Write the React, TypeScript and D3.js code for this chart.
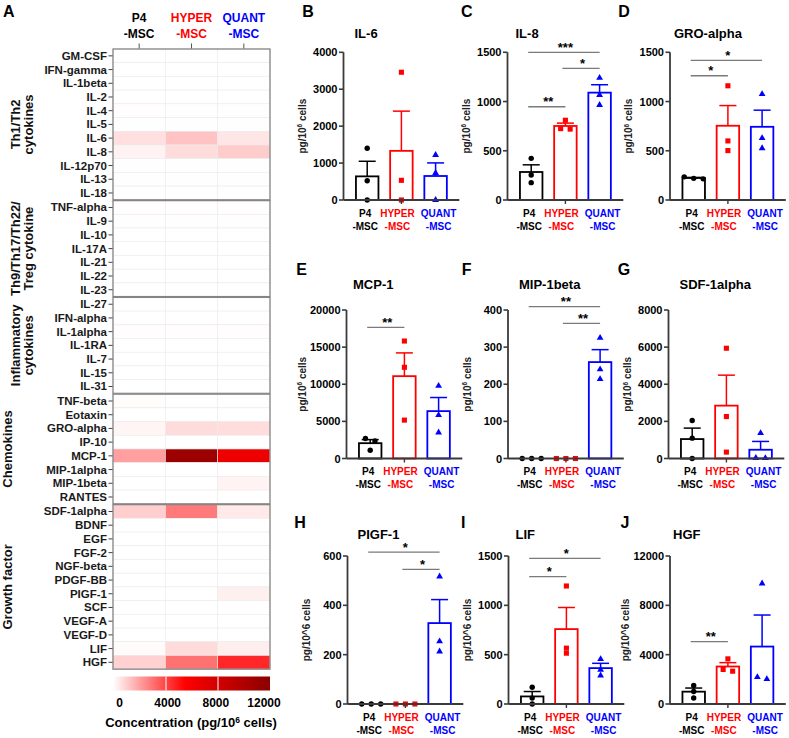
import React from "react";
import * as d3 from "d3";

const FONT = "'Liberation Sans', Arial, Helvetica, sans-serif";

// ---------------- Panel A: heatmap data ----------------
const heatColumns = ["P4", "HYPER", "QUANT"];
const columnColors = ["#000000", "#ff0000", "#0000ff"];
const groupLabels = [
  ["Th1/Th2", "cytokines"],
  ["Th9/Th17/Th22/", "Treg cytokine"],
  ["Inflammatory", "cytokines"],
  ["Chemokines"],
  ["Growth factor"],
];
const groupRows = [
  ["GM-CSF", "IFN-gamma", "IL-1beta", "IL-2", "IL-4", "IL-5", "IL-6", "IL-8", "IL-12p70", "IL-13", "IL-18"],
  ["TNF-alpha", "IL-9", "IL-10", "IL-17A", "IL-21", "IL-22", "IL-23"],
  ["IL-27", "IFN-alpha", "IL-1alpha", "IL-1RA", "IL-7", "IL-15", "IL-31"],
  ["TNF-beta", "Eotaxin", "GRO-alpha", "IP-10", "MCP-1", "MIP-1alpha", "MIP-1beta", "RANTES"],
  ["SDF-1alpha", "BDNF", "EGF", "FGF-2", "NGF-beta", "PDGF-BB", "PIGF-1", "SCF", "VEGF-A", "VEGF-D", "LIF", "HGF"],
];
const heatP4 = [
  0, 0, 10, 0, 40, 20, 700, 280, 20, 20, 20,
  40, 30, 10, 10, 0, 0, 0,
  0, 0, 50, 10, 0, 10, 0,
  60, 0, 220, 10, 2060, 0, 0, 0,
  1050, 0, 0, 0, 0, 0, 0, 0, 10, 0, 80, 1000,
];
const heatHyper = [
  0, 0, 10, 0, 30, 20, 1300, 760, 20, 20, 20,
  40, 30, 10, 10, 0, 0, 0,
  0, 0, 50, 10, 0, 10, 0,
  20, 0, 750, 10, 11000, 0, 0, 0,
  2850, 0, 0, 0, 0, 0, 0, 0, 10, 0, 760, 3050,
];
const heatQuant = [
  0, 0, 10, 0, 30, 20, 550, 1090, 20, 15, 20,
  40, 20, 10, 10, 0, 0, 0,
  0, 0, 50, 10, 0, 10, 0,
  20, 0, 740, 10, 6380, 0, 260, 0,
  470, 0, 0, 0, 0, 0, 330, 0, 10, 0, 360, 4650,
];
const legendTicks = [0, 4000, 8000, 12000];

// ---------------- Panels B-J: bar chart data ----------------
const barGroups = ["P4", "HYPER", "QUANT"];
const panelLetters = ["B", "C", "D", "E", "F", "G", "H", "I", "J"];
const panelTitles = ["IL-6", "IL-8", "GRO-alpha", "MCP-1", "MIP-1beta", "SDF-1alpha", "PIGF-1", "LIF", "HGF"];
const p4Values = [
  [1400, 520, 0], [423, 254, 176], [215, 235, 220],
  [2700, 2370, 1120], [0, 0, 0], [2044, 1097, 0],
  [0, 0, 0], [170, 60, 0], [1500, 1017, 484],
];
const hyperValues = [
  [3460, 533, 0], [810, 720, 725], [1160, 600, 502],
  [15820, 12280, 5170], [0, 0, 0], [5940, 2260, 344],
  [0, 0, 0], [1196, 566, 515], [3660, 2660, 2800],
];
const quantValues = [
  [1220, 730, 0], [1240, 1066, 965], [1076, 628, 526],
  [9790, 5840, 3510], [325, 240, 214], [1366, 30, 20],
  [517, 254, 213], [455, 347, 289], [9771, 2019, 2180],
];
const yMaxes = [4000, 1500, 1500, 20000, 400, 8000, 600, 1500, 12000];
const yTickSteps = [1000, 500, 500, 5000, 100, 2000, 200, 500, 4000];
const yUnitSuperscript = [true, true, true, true, true, true, false, false, false];

// significance brackets
const sigPanel = [1, 1, 1, 2, 2, 3, 4, 4, 6, 6, 7, 7, 8];
const sigFrom = [0, 1, 0, 0, 0, 0, 0, 1, 0, 1, 0, 0, 0];
const sigTo = [2, 2, 1, 2, 1, 1, 2, 2, 2, 2, 2, 1, 1];
const sigLevel = [1500, 1337, 947, 1418, 1262, 17670, 409, 364, 616, 546, 1475, 1290, 5055];
const sigText = ["***", "*", "**", "*", "*", "**", "**", "**", "*", "*", "*", "*", "**"];

// ---------------- layout ----------------
const AXIS_X = [343.5, 507.5, 670, 346.5, 508, 668.5, 347.5, 508.5, 670];
const ROW_Y: [number, number][] = [[200, 52.3], [458.5, 310], [704, 556]];
const LETTER_X = [308, 466.7, 624, 301.7, 466.7, 624, 300, 463.3, 625];
const LETTER_BASE = [16.5, 275, 527.5];
const TITLE_DX = [11, 8, 4, 6.5, 11, 11, 10, 7, 3];
const TITLE_BASE = [37.5, 289, 539];
const LABEL_DX = [-2, -4, 3];
const AXIS_LEN = 115.8;
const AXIS_COLOR = "#3a3a3a";

const heatColor = d3
  .scaleLinear<string>()
  .domain([0, 5500, 12000])
  .range(["#ffffff", "#ff0000", "#8b0000"])
  .interpolate(d3.interpolateRgb)
  .clamp(true);

function spreadOffsets(vals: number[], y: (v: number) => number) {
  const idx = vals.map((_, i) => i).sort((a, b) => y(vals[a]) - y(vals[b]) || vals[b] - vals[a]);
  const offs = new Array(vals.length).fill(0);
  let cluster = [idx[0]];
  const flush = () => {
    const k = cluster.length;
    cluster.forEach((id, j) => (offs[id] = (j - (k - 1) / 2) * 9.5));
  };
  for (let j = 1; j < idx.length; j++) {
    if (Math.abs(y(vals[idx[j]]) - y(vals[cluster[cluster.length - 1]])) < 4.5) cluster.push(idx[j]);
    else {
      flush();
      cluster = [idx[j]];
    }
  }
  flush();
  return offs;
}

function Heatmap() {
  const PITCH = 13.71;
  const GAP = 0.8;
  const TOP = 49;
  const hmX = d3.scaleBand().domain(heatColumns).range([113, 270]);
  const heatSeries = [heatP4, heatHyper, heatQuant];
  let acc = 0;
  const groups = groupRows.map((rows, gi) => {
    const top = TOP + acc * PITCH + gi * GAP;
    const sc = d3.scaleBand().domain(rows).range([top, top + rows.length * PITCH]);
    const start = acc;
    acc += rows.length;
    return { rows, sc, top, bottom: top + rows.length * PITCH, start, gi };
  });
  const legX = d3.scaleLinear().domain([0, 12000]).range([114, 270]);
  const legLabelX = d3.scaleLinear().domain([0, 12000]).range([119.5, 264]);
  const stops = d3.range(0, 12001, 500);
  return (
    <g>
      <defs>
        <linearGradient id="heatGrad" x1="0" x2="1" y1="0" y2="0">
          {stops.map((s) => (
            <stop key={s} offset={`${(s / 12000) * 100}%`} stopColor={heatColor(s)} />
          ))}
        </linearGradient>
      </defs>
      <text x={3} y={17} fontSize={16} fontWeight="bold">A</text>
      {heatColumns.map((c, ci) => {
        const cx = (hmX(c) as number) + hmX.bandwidth() / 2;
        const lines = [c === "P4" ? "P4" : c, "-MSC"];
        return (
          <g key={c}>
            <text x={cx} y={21.5} textAnchor="middle" fontSize={12} fontWeight="bold" fill={columnColors[ci]}>{lines[0]}</text>
            <text x={cx} y={37.5} textAnchor="middle" fontSize={12} fontWeight="bold" fill={columnColors[ci]}>{lines[1]}</text>
            <line x1={cx} x2={cx} y1={43.5} y2={49} stroke="#555" strokeWidth={1} />
          </g>
        );
      })}
      {groups.map((g) => (
        <g key={g.gi}>
          {g.rows.map((r, ri) => {
            const y = g.sc(r) as number;
            return (
              <g key={r}>
                {heatColumns.map((c, ci) => (
                  <rect
                    key={c}
                    x={hmX(c) as number}
                    y={y}
                    width={hmX.bandwidth()}
                    height={g.sc.bandwidth()}
                    fill={heatColor(heatSeries[ci][g.start + ri])}
                    stroke="#ebebeb"
                    strokeWidth={0.6}
                  />
                ))}
                <line x1={108.5} x2={113} y1={y + PITCH / 2} y2={y + PITCH / 2} stroke="#444" strokeWidth={1} />
                <text x={107} y={y + PITCH / 2 + 4} textAnchor="end" fontSize={11.5} fontWeight="bold" fill="#1a1a1a">{r}</text>
              </g>
            );
          })}
          <rect x={113} y={g.top} width={157} height={g.bottom - g.top} fill="none" stroke="#858585" strokeWidth={1.3} />
          {(() => {
            const cy = (g.top + g.bottom) / 2;
            const lab = groupLabels[g.gi];
            const xs = lab.length === 2 ? [20, 33] : [12.5];
            return lab.map((t, li) => (
              <text key={li} x={xs[li]} y={cy} transform={`rotate(-90, ${xs[li]}, ${cy})`} textAnchor="middle" fontSize={13} fontWeight="bold" fill="#111">{t}</text>
            ));
          })()}
        </g>
      ))}
      <rect x={113} y={676.5} width={157} height={14} fill="url(#heatGrad)" />
      {[4000, 8000].map((t) => (
        <line key={t} x1={legX(t)} x2={legX(t)} y1={676.5} y2={690.5} stroke="#ffffff" strokeWidth={1} />
      ))}
      {legendTicks.map((t) => (
        <text key={t} x={legLabelX(t)} y={707} textAnchor="middle" fontSize={12} fontWeight="bold">{t}</text>
      ))}
      <text x={191} y={727} textAnchor="middle" fontSize={13} fontWeight="bold">
        <tspan>Concentration (pg/10</tspan>
        <tspan fontSize={8.5} dy={-4.5}>6</tspan>
        <tspan dy={4.5}> cells)</tspan>
      </text>
    </g>
  );
}

function BarPanel({ i }: { i: number }) {
  const ax = AXIS_X[i];
  const row = Math.floor(i / 3);
  const [y0, y1] = ROW_Y[row];
  const y = d3.scaleLinear().domain([0, yMaxes[i]]).range([y0, y1]);
  const x = d3.scaleBand().domain(barGroups).range([ax, ax + AXIS_LEN]).paddingInner(0.342).paddingOuter(0.364);
  const series = [p4Values[i], hyperValues[i], quantValues[i]];
  const ticks = d3.range(0, yMaxes[i] + 1, yTickSteps[i]);
  const bw = x.bandwidth();
  const maxDigits = String(yMaxes[i]).length;
  const ylx = ax - (maxDigits >= 5 ? 41 : 37.5);
  const ylc = (y0 + y1) / 2;
  const sigs = sigPanel.map((p, k) => k).filter((k) => sigPanel[k] === i);
  return (
    <g>
      <text x={LETTER_X[i]} y={LETTER_BASE[row]} textAnchor="middle" fontSize={16} fontWeight="bold">{panelLetters[i]}</text>
      <text x={ax + TITLE_DX[i]} y={TITLE_BASE[row]} fontSize={13} fontWeight="bold">{panelTitles[i]}</text>
      <text x={ylx} y={ylc} transform={`rotate(-90, ${ylx}, ${ylc})`} textAnchor="middle" fontSize={10} fontWeight="bold" fill="#222">
        {yUnitSuperscript[i] ? (
          <>
            <tspan>pg/10</tspan>
            <tspan fontSize={6.5} dy={-3.5}>6</tspan>
            <tspan dy={3.5}> cells</tspan>
          </>
        ) : (
          "pg/10^6 cells"
        )}
      </text>
      {series.map((vals, gi) => {
        const g = barGroups[gi];
        const bx = x(g) as number;
        const cx = bx + bw / 2;
        const mean = d3.mean(vals) as number;
        const sem = (d3.deviation(vals) || 0) / Math.sqrt(vals.length);
        const col = columnColors[gi];
        const offs = spreadOffsets(vals, y);
        return (
          <g key={g}>
            <rect x={bx} y={y(mean)} width={bw} height={Math.max(0, y0 - y(mean))} fill="#ffffff" stroke={col} strokeWidth={1.8} />
            {sem > 0 && (
              <g stroke={col} strokeWidth={1.5}>
                <line x1={cx} x2={cx} y1={y(mean)} y2={y(mean + sem)} />
                <line x1={cx - 8.5} x2={cx + 8.5} y1={y(mean + sem)} y2={y(mean + sem)} />
              </g>
            )}
            {vals.map((v, k) => {
              const px = cx + offs[k];
              const py = y(v);
              if (gi === 0) return <circle key={k} cx={px} cy={py} r={2.7} fill={col} />;
              const sym = d3.symbol().type(gi === 1 ? d3.symbolSquare : d3.symbolTriangle).size(gi === 1 ? 26 : 20)();
              return <path key={k} d={sym as string} transform={`translate(${px},${py})`} fill={col} />;
            })}
          </g>
        );
      })}
      {/* axes */}
      <line x1={ax} x2={ax} y1={y0} y2={y1} stroke={AXIS_COLOR} strokeWidth={1.8} />
      <line x1={ax} x2={ax + AXIS_LEN} y1={y0} y2={y0} stroke={AXIS_COLOR} strokeWidth={1.8} />
      {ticks.map((t) => (
        <g key={t}>
          <line x1={ax - 4.5} x2={ax} y1={y(t)} y2={y(t)} stroke={AXIS_COLOR} strokeWidth={1.6} />
          <text x={ax - 6} y={y(t) + 4} textAnchor="end" fontSize={11} fontWeight="bold">{t}</text>
        </g>
      ))}
      <line
        x1={(x("HYPER") as number) + bw / 2}
        x2={(x("HYPER") as number) + bw / 2}
        y1={y0}
        y2={y0 + 4}
        stroke={AXIS_COLOR}
        strokeWidth={1.4}
      />
      {barGroups.map((g, gi) => {
        const cx = (x(g) as number) + bw / 2 + LABEL_DX[gi];
        return (
          <g key={g} fill={columnColors[gi]} fontSize={10} fontWeight="bold">
            <text x={cx} y={y0 + 16.5} textAnchor="middle">{g}</text>
            <text x={cx} y={y0 + 29.5} textAnchor="middle">-MSC</text>
          </g>
        );
      })}
      {sigs.map((k) => {
        const xa = (x(barGroups[sigFrom[k]]) as number) + bw / 2;
        const xb = (x(barGroups[sigTo[k]]) as number) + bw / 2;
        const ly = y(sigLevel[k]);
        return (
          <g key={k}>
            <line x1={xa - 3} x2={xb} y1={ly} y2={ly} stroke="#7a7a7a" strokeWidth={1.3} />
            <text x={(xa + xb) / 2} y={ly - 0.5} textAnchor="middle" fontSize={13} fontWeight="bold">{sigText[k]}</text>
          </g>
        );
      })}
    </g>
  );
}

export default function App() {
  return (
    <svg
      width={789}
      height={738}
      viewBox="0 0 789 738"
      style={{ position: "absolute", left: 0, top: 0, display: "block", background: "#ffffff" }}
      fontFamily={FONT}
    >
      <rect x={0} y={0} width={789} height={738} fill="#ffffff" />
      <Heatmap />
      {panelTitles.map((_, i) => (
        <BarPanel key={i} i={i} />
      ))}
    </svg>
  );
}
